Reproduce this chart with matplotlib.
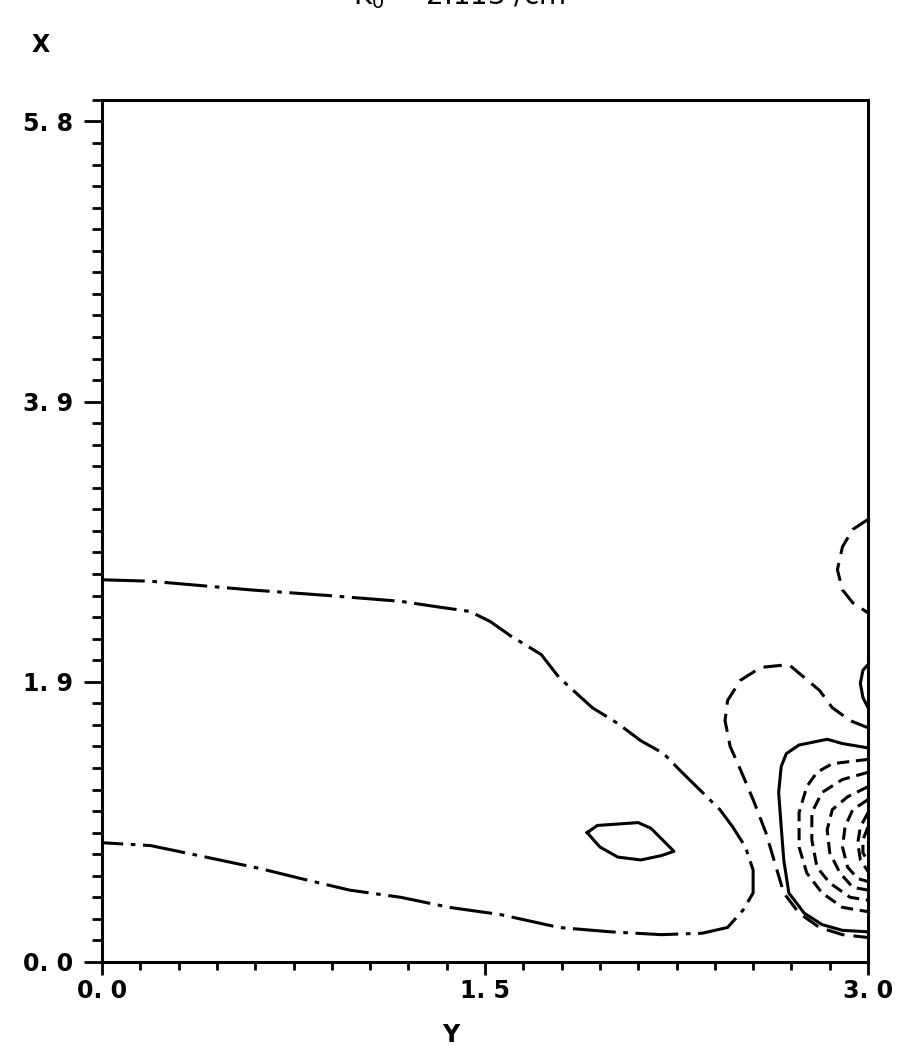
import matplotlib
matplotlib.use("Agg")
from matplotlib import pyplot as plt
from matplotlib.ticker import MultipleLocator

## tick positions and labels

x_ticks = [0.0, 1.5, 3.0]
x_tick_labels = ["0. 0", "1. 5", "3. 0"]
y_ticks = [0.0, 1.95, 3.9, 5.85]
y_tick_labels = ["0. 0", "1. 9", "3. 9", "5. 8"]

## contour lines (Y horizontal, X vertical)

# long dash-dot contour
a_y = [0.00, 0.19, 0.58, 0.89, 1.17, 1.32, 1.44, 1.52, 1.60, 1.72, 1.79, 1.92, 2.02, 2.11,
       2.20, 2.26, 2.34, 2.42, 2.47, 2.52, 2.55, 2.55, 2.51, 2.45, 2.35, 2.19, 1.99, 1.79,
       1.56, 1.36, 1.17, 0.97, 0.78, 0.62, 0.38, 0.19, 0.00]
a_x = [2.66, 2.65, 2.59, 2.55, 2.51, 2.47, 2.44, 2.37, 2.27, 2.14, 1.98, 1.77, 1.66, 1.54,
       1.45, 1.34, 1.20, 1.06, 0.94, 0.80, 0.64, 0.48, 0.36, 0.24, 0.20, 0.19, 0.21, 0.24,
       0.33, 0.38, 0.45, 0.50, 0.58, 0.65, 0.74, 0.81, 0.83]

# small closed loop
b_y = [1.90, 1.94, 2.10, 2.15, 2.24, 2.19, 2.11, 2.02, 1.95, 1.90]
b_x = [0.90, 0.95, 0.97, 0.93, 0.77, 0.74, 0.71, 0.73, 0.80, 0.90]

# dashed contour around the wall region
c_y = [3.00, 2.93, 2.86, 2.81, 2.73, 2.69, 2.58, 2.50, 2.45, 2.44, 2.46, 2.50, 2.55, 2.60,
       2.64, 2.67, 2.73, 2.81, 2.90, 3.00]
c_x = [1.63, 1.68, 1.77, 1.89, 2.01, 2.07, 2.05, 1.96, 1.82, 1.68, 1.50, 1.34, 1.13, 0.90,
       0.66, 0.48, 0.34, 0.24, 0.19, 0.17]

# solid contour inside it
d_y = [3.00, 2.90, 2.84, 2.73, 2.68, 2.66, 2.65, 2.66, 2.67, 2.69, 2.75, 2.82, 2.90, 3.00]
d_x = [1.49, 1.52, 1.55, 1.51, 1.45, 1.36, 1.18, 0.94, 0.71, 0.48, 0.34, 0.26, 0.22, 0.21]

# nested dashed contours near the wall
e1_y = [3.00, 2.86, 2.80, 2.76, 2.73, 2.73, 2.76, 2.82, 2.90, 3.00]
e1_x = [1.41, 1.38, 1.32, 1.22, 1.04, 0.80, 0.62, 0.48, 0.38, 0.35]
e2_y = [3.00, 2.90, 2.82, 2.78, 2.78, 2.80, 2.85, 2.93, 3.00]
e2_x = [1.32, 1.27, 1.18, 1.04, 0.85, 0.66, 0.55, 0.45, 0.43]
e3_y = [3.00, 2.92, 2.86, 2.84, 2.85, 2.89, 2.94, 3.00]
e3_x = [1.22, 1.15, 1.06, 0.92, 0.76, 0.62, 0.52, 0.50]
e4_y = [3.00, 2.94, 2.91, 2.90, 2.92, 2.96, 3.00]
e4_x = [1.13, 1.06, 0.94, 0.80, 0.66, 0.58, 0.56]
e5_y = [3.00, 2.97, 2.96, 2.97, 3.00]
e5_x = [1.04, 0.94, 0.83, 0.71, 0.63]
e6_y = [3.00, 2.98, 2.98, 3.00]
e6_x = [0.94, 0.85, 0.76, 0.70]

# dashed loop at top right
f_y = [3.00, 2.94, 2.90, 2.88, 2.90, 2.94, 3.00]
f_x = [3.08, 3.01, 2.89, 2.73, 2.59, 2.50, 2.43]

# small solid piece at the wall
g_y = [3.00, 2.98, 2.97, 2.98, 3.00]
g_x = [2.07, 2.03, 1.94, 1.84, 1.77]

fig = plt.figure(figsize=(9.01, 10.64), dpi=100)
ax = fig.add_axes([0.1132, 0.0959, 0.8502, 0.8102])

lw = 2.2
dashdot = (0, (14, 2.5, 1.5, 2.5))
dashed = (0, (6, 3))

ax.plot(a_y, a_x, color='black', lw=lw, linestyle=dashdot)
ax.plot(b_y, b_x, color='black', lw=lw, linestyle='solid')
ax.plot(c_y, c_x, color='black', lw=lw, linestyle=dashed)
ax.plot(d_y, d_x, color='black', lw=lw, linestyle='solid')
for ey, ex in [(e1_y, e1_x), (e2_y, e2_x), (e3_y, e3_x), (e4_y, e4_x), (e5_y, e5_x), (e6_y, e6_x)]:
    ax.plot(ey, ex, color='black', lw=lw, linestyle=(0, (4, 2.2)))
ax.plot(f_y, f_x, color='black', lw=lw, linestyle=dashed)
ax.plot(g_y, g_x, color='black', lw=lw, linestyle='solid')

ax.set_xlim(0, 3.0)
ax.set_ylim(0, 6.0)

for s in ax.spines.values():
    s.set_linewidth(2.2)

ax.set_xticks(x_ticks)
ax.set_xticklabels(x_tick_labels)
ax.set_yticks(y_ticks)
ax.set_yticklabels(y_tick_labels)
ax.xaxis.set_minor_locator(MultipleLocator(0.15))
ax.yaxis.set_minor_locator(MultipleLocator(0.15))

ax.tick_params(axis='x', which='major', direction='out', length=9, width=2, pad=3,
               labelsize=17)
ax.tick_params(axis='x', which='minor', direction='out', length=6, width=2)
ax.tick_params(axis='y', which='major', direction='out', length=13, width=2, pad=8,
               labelsize=17)
ax.tick_params(axis='y', which='minor', direction='out', length=7, width=2)
for lab in ax.get_xticklabels() + ax.get_yticklabels():
    lab.set_fontweight('bold')

fig.text(0.5, 0.027, "Y", ha='center', va='center', fontsize=17, fontweight='bold')
fig.text(0.045, 0.958, "X", ha='center', va='center', fontsize=17, fontweight='bold')
# title cut off at the top of the page, as in the scan
fig.text(0.51, 1 - 4 / 1064, "K$_0$ = 2.113 /cm", ha='center', va='baseline',
         fontsize=20)

fig.savefig("out.png", dpi=100)
